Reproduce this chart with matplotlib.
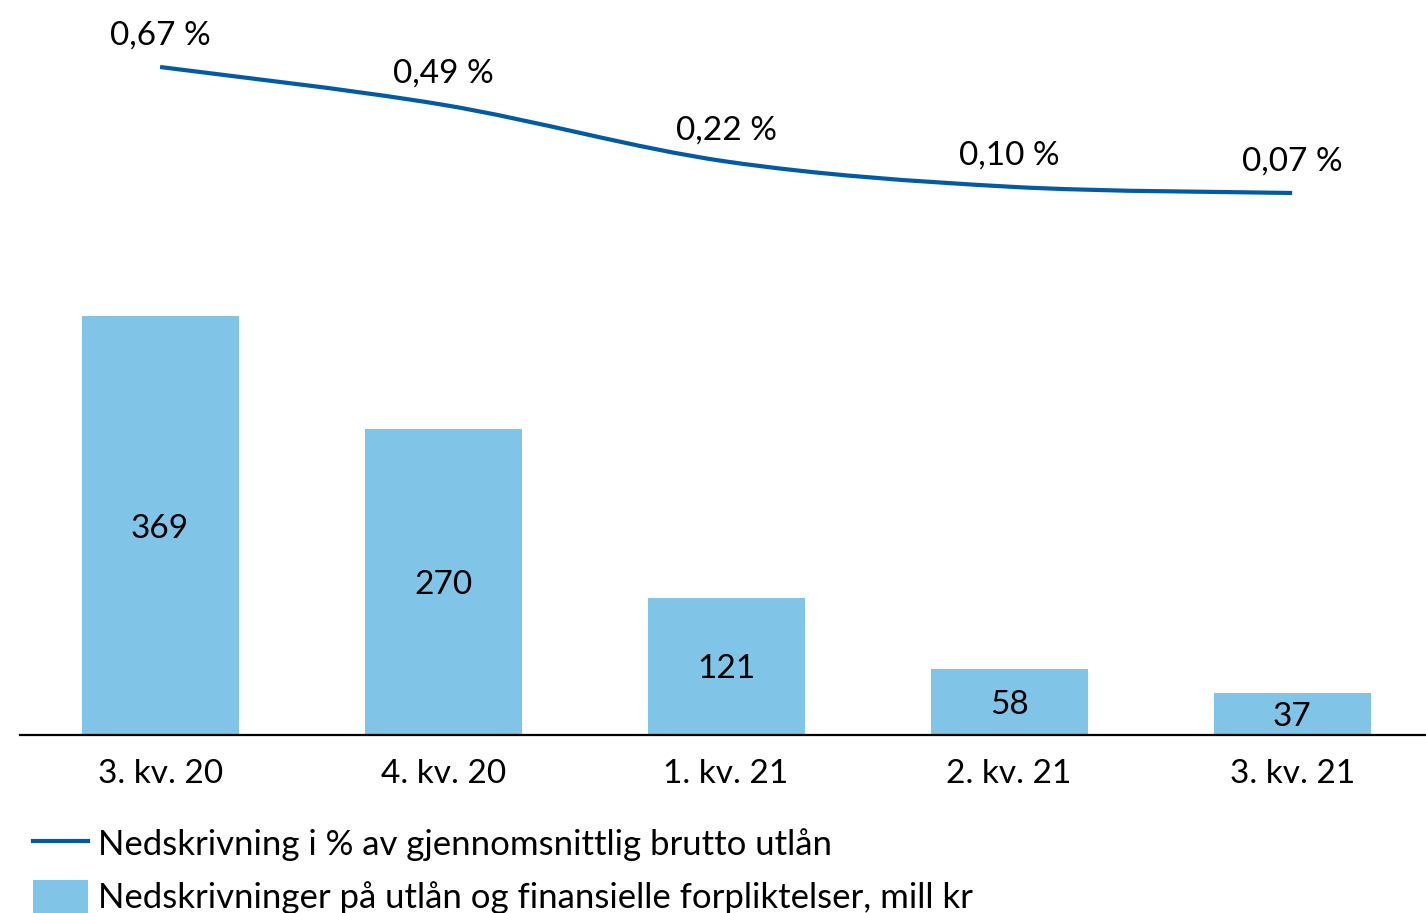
import numpy as np
import matplotlib.pyplot as plt
from matplotlib.path import Path
from matplotlib.patches import PathPatch, Patch
from matplotlib.lines import Line2D

plt.rcParams['font.family'] = ['Lato', 'DejaVu Sans']

quarters = ['3. kv. 20', '4. kv. 20', '1. kv. 21', '2. kv. 21', '3. kv. 21']
writedowns = [369, 270, 121, 58, 37]
pct = [0.67, 0.49, 0.22, 0.10, 0.07]
pct_labels = ['0,67 %', '0,49 %', '0,22 %', '0,10 %', '0,07 %']

bar_color = '#80C5E8'
line_color = '#005AA6'


def smooth_path(xs, ys):
    # Catmull-Rom style smoothing as bezier curves (like Excel smoothed line)
    pts = np.column_stack([xs, ys]).astype(float)
    verts = [pts[0]]
    codes = [Path.MOVETO]
    n = len(pts)
    for i in range(n - 1):
        p0 = pts[i - 1] if i > 0 else pts[i]
        p1 = pts[i]
        p2 = pts[i + 1]
        p3 = pts[i + 2] if i + 2 < n else pts[i + 1]
        c1 = p1 + (p2 - p0) / 6.0
        c2 = p2 - (p3 - p1) / 6.0
        verts += [c1, c2, p2]
        codes += [Path.CURVE4] * 3
    return Path(verts, codes)


fig = plt.figure(figsize=(14.26, 9.13), dpi=100)
ax = fig.add_axes([20 / 1426, 178 / 913, 1 - 20 / 1426, 735 / 913])
x = np.arange(len(quarters))

bars = ax.bar(x, writedowns, width=0.555, color=bar_color, zorder=2)
for xi, v in zip(x, writedowns):
    ax.text(xi, v / 2, str(v), ha='center', va='center_baseline', fontsize=24, color='black')

ax.set_xlim(-0.495, 4.473)
ax.set_ylim(0, 648)
ax.set_xticks(x)
ax.set_xticklabels(quarters, fontsize=24)
ax.tick_params(axis='x', length=0, pad=17)
ax.set_yticks([])
for s in ['top', 'left', 'right']:
    ax.spines[s].set_visible(False)
ax.spines['bottom'].set_linewidth(1.6)

ax2 = ax.twinx()
ax2.set_ylim(-2.511, 0.989)
ax2.set_yticks([])
for s in ax2.spines.values():
    s.set_visible(False)
ax2.add_patch(PathPatch(smooth_path(x, pct), facecolor='none', edgecolor=line_color,
                        lw=3, capstyle='butt'))
for xi, v, lab in zip(x, pct, pct_labels):
    ax2.annotate(lab, (xi, v), xytext=(0, 22.5), textcoords='offset points',
                 ha='center', va='center', fontsize=24)

handles = [Line2D([0], [0], color=line_color, lw=3),
           Patch(facecolor=bar_color)]
labels = ['Nedskrivning i % av gjennomsnittlig brutto utlån',
          'Nedskrivninger på utlån og finansielle forpliktelser, mill kr']
fig.legend(handles, labels, loc='upper left', bbox_to_anchor=(0.023, 0.0946),
           frameon=False, fontsize=25, handlelength=1.58, handleheight=1.1,
           handletextpad=0.3, labelspacing=0.54, borderaxespad=0, borderpad=0)

fig.savefig('out.png', dpi=100)
